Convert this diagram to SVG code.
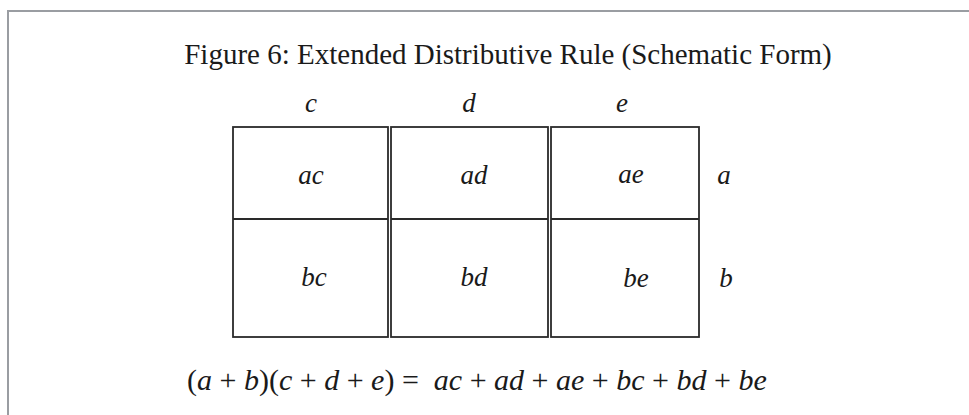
<svg xmlns="http://www.w3.org/2000/svg" width="969" height="415" viewBox="0 0 969 415">
<style>
.frame{fill:none;stroke:#9a9da2;stroke-width:2}
.cell{fill:#fff;stroke:#2a2a2a;stroke-width:1.8}
.t{font-family:"Liberation Serif","Times New Roman",serif;fill:#1a1a1a}
.i{font-style:italic}
.m{text-anchor:middle}
</style>
<rect width="969" height="415" fill="#fff"/>
<path class="frame" d="M8,415 V11 H969"/>
<text class="t m" x="508" y="64" font-size="29">Figure 6: Extended Distributive Rule (Schematic Form)</text>
<g id="col-labels" class="t i m" font-size="27">
<text x="311" y="112">c</text>
<text x="469" y="112">d</text>
<text x="622" y="112">e</text>
</g>
<g id="col-c">
<rect class="cell" x="233" y="127" width="155" height="210"/>
<line class="cell" x1="233" y1="219" x2="388" y2="219"/>
<text class="t i m" x="311" y="184" font-size="27">ac</text>
<text class="t i m" x="314" y="286" font-size="27">bc</text>
</g>
<g id="col-d">
<rect class="cell" x="391" y="127" width="157" height="210"/>
<line class="cell" x1="391" y1="219" x2="548" y2="219"/>
<text class="t i m" x="474" y="184" font-size="27">ad</text>
<text class="t i m" x="474" y="286" font-size="27">bd</text>
</g>
<g id="col-e">
<rect class="cell" x="551" y="127" width="148" height="210"/>
<line class="cell" x1="551" y1="219" x2="699" y2="219"/>
<text class="t i m" x="631" y="183" font-size="27">ae</text>
<text class="t i m" x="636" y="287" font-size="27">be</text>
</g>
<g id="row-labels" class="t i m" font-size="27">
<text x="724" y="184">a</text>
<text x="726" y="287">b</text>
</g>
<text class="t" x="187" y="390" font-size="30" xml:space="preserve">(<tspan class="i">a</tspan> + <tspan class="i">b</tspan>)(<tspan class="i">c</tspan> + <tspan class="i">d</tspan> + <tspan class="i">e</tspan>) =  <tspan class="i">ac</tspan> + <tspan class="i">ad</tspan> + <tspan class="i">ae</tspan> + <tspan class="i">bc</tspan> + <tspan class="i">bd</tspan> + <tspan class="i">be</tspan></text>
</svg>
